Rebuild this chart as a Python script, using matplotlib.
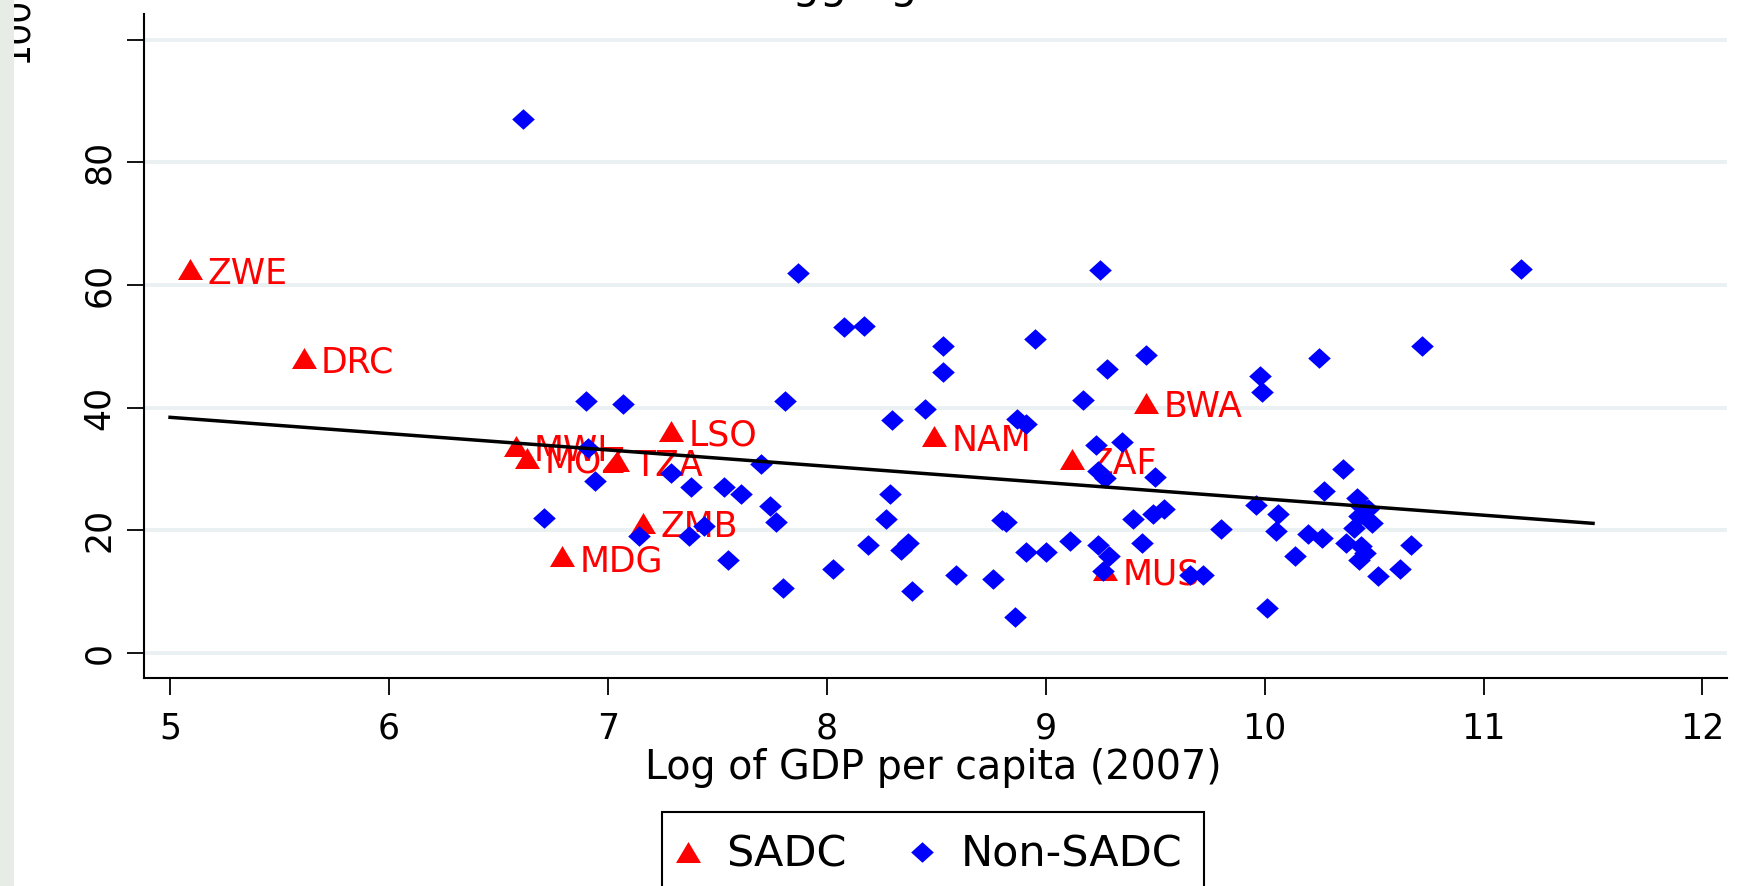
import matplotlib as mpl
mpl.use('Agg')
import matplotlib.pyplot as plt
from matplotlib.lines import Line2D
from matplotlib.patches import Rectangle

# SADC members, labelled with their codes
sadc_codes = ['ZWE', 'DRC', 'MWI', 'MOZ', 'TZA', 'LSO', 'ZMB', 'MDG', 'NAM', 'ZAF', 'BWA', 'MUS']
sadc_gdp = [5.09, 5.61, 6.58, 6.63, 7.04, 7.29, 7.16, 6.79, 8.49, 9.12, 9.46, 9.27]
sadc_val = [62.6, 48.1, 33.7, 31.8, 31.2, 36.1, 21.2, 15.7, 35.3, 31.6, 40.8, 13.5]

# other countries
other_gdp = [6.61, 7.87, 9.25, 11.17, 8.08, 8.17, 8.53, 8.95, 9.46, 10.72,
             10.25, 8.53, 9.28, 9.98, 9.99, 9.17, 7.81, 6.90, 7.07, 8.45,
             8.30, 8.87, 8.91, 9.35, 9.23, 6.91, 7.70, 7.29, 9.24, 9.27,
             9.50, 10.36, 6.94, 7.38, 7.53, 7.61, 8.29, 10.27, 10.42, 10.44,
             9.96, 7.74, 9.54, 9.49, 10.06, 9.40, 6.71, 7.77, 8.27, 8.80,
             8.82, 10.41, 10.49, 10.43, 9.80, 10.05, 10.20, 10.26, 7.44, 7.37,
             7.14, 9.11, 9.44, 9.24, 10.37, 10.44, 10.67, 8.19, 8.37, 8.34,
             8.91, 9.00, 9.29, 10.14, 10.43, 10.46, 7.55, 9.26, 8.03, 10.62,
             8.59, 8.76, 9.66, 9.72, 10.52, 7.80, 8.39, 8.86, 10.01, 10.47]
other_val = [87.1, 62.0, 62.4, 62.6, 53.2, 53.3, 50.1, 51.1, 48.5, 50.0,
             48.0, 45.8, 46.3, 45.1, 42.5, 41.3, 41.1, 41.1, 40.6, 39.7,
             37.9, 38.1, 37.3, 34.3, 33.9, 33.4, 30.8, 29.3, 29.6, 28.5,
             28.6, 29.9, 28.0, 27.1, 27.0, 25.9, 25.9, 26.3, 25.3, 23.9,
             24.1, 23.9, 23.5, 22.7, 22.7, 21.8, 22.0, 21.3, 21.8, 21.7,
             21.3, 20.4, 21.2, 22.3, 20.1, 19.8, 19.3, 18.7, 20.6, 19.1,
             19.1, 18.3, 17.9, 17.6, 17.9, 17.4, 17.5, 17.5, 17.9, 16.8,
             16.5, 16.5, 15.8, 15.8, 15.2, 16.3, 15.2, 13.3, 13.7, 13.7,
             12.6, 12.1, 12.6, 12.6, 12.5, 10.6, 10.0, 5.9, 7.3, 23.5]

# fitted line end points
fit_x = [5.0, 11.5]
fit_y = [38.4, 21.1]

xticks = [5, 6, 7, 8, 9, 10, 11, 12]
yticks = [0, 20, 40, 60, 80, 100]

tri = [(-1.19, -1.0), (1.19, -1.0), (0.0, 1.0), (-1.19, -1.0)]
dia = [(-1.1, 0.0), (0.0, 1.0), (1.1, 0.0), (0.0, -1.0), (-1.1, 0.0)]

W, H = 1739, 886
fig = plt.figure(figsize=(W / 100, H / 100), dpi=100)
# grey strip on the left edge, drawn over the stray "100" label
fig.add_artist(Rectangle((0, 0), 14 / W, 1, transform=fig.transFigure,
                         facecolor='#e7ece7', edgecolor='none', zorder=5))

ax = fig.add_axes([144 / W, 1 - 678 / H, (1727 - 144) / W, (678 - 14) / H])
ax.set_xlim(4.881, 12.112)
ax.set_ylim(-4.13, 104.2)

ax.plot(sadc_gdp, sadc_val, linestyle='none', marker=tri, ms=18, mew=0,
        color='red', zorder=3)
for c, x, y in zip(sadc_codes, sadc_gdp, sadc_val):
    ax.annotate(c, (x, y), xytext=(12.5, -10.5), textcoords='offset points',
                fontsize=25, color='red', va='baseline', ha='left', zorder=3)
ax.plot(other_gdp, other_val, linestyle='none', marker=dia, ms=16.3, mew=0,
        color='blue', zorder=4)
ax.plot(fit_x, fit_y, color='black', lw=2.5, zorder=5)

ax.set_xticks(xticks)
ax.set_yticks(yticks)
# the top label sits far left in the original, so it is drawn separately
ax.set_yticklabels([str(v) for v in yticks[:-1]] + [''], rotation=90, va='center')
ax.tick_params(axis='both', length=12.2, width=1.3, labelsize=25)
ax.tick_params(axis='x', pad=12)
ax.tick_params(axis='y', pad=8)
ax.yaxis.grid(True, color='#eaf1f2', lw=2.8)
ax.set_axisbelow(True)
for s in ['top', 'right']:
    ax.spines[s].set_visible(False)
for s in ['left', 'bottom']:
    ax.spines[s].set_linewidth(1.5)

fig.text(17 / W, 1 - 30 / H, str(yticks[-1]), fontsize=25, rotation=90,
         ha='center', va='center', zorder=1)

ax.set_xlabel('Log of GDP per capita (2007)', fontsize=28.5)
ax.xaxis.label.set_va('center')
ax.xaxis.set_label_coords((933 - 144) / (1727 - 144), -(768 - 678) / (678 - 14))

fig.text(764 / W, 1 + 2 / H, 'Aggregate', fontsize=31, ha='left', va='baseline')

handles = [Line2D([], [], linestyle='none', marker=tri, ms=18, mew=0, color='red'),
           Line2D([], [], linestyle='none', marker=dia, ms=16.3, mew=0, color='blue')]
leg = fig.legend(handles, ['SADC', 'Non-SADC'], ncol=2, fontsize=31,
                 loc='upper left', bbox_to_anchor=(662 / W, 1 - 812 / H),
                 borderaxespad=0, borderpad=0.51, handlelength=0.2,
                 handletextpad=0.79, columnspacing=1.65, fancybox=False,
                 framealpha=1, edgecolor='black')
leg.get_frame().set_linewidth(1.5)

fig.savefig('out.png', dpi=100)
